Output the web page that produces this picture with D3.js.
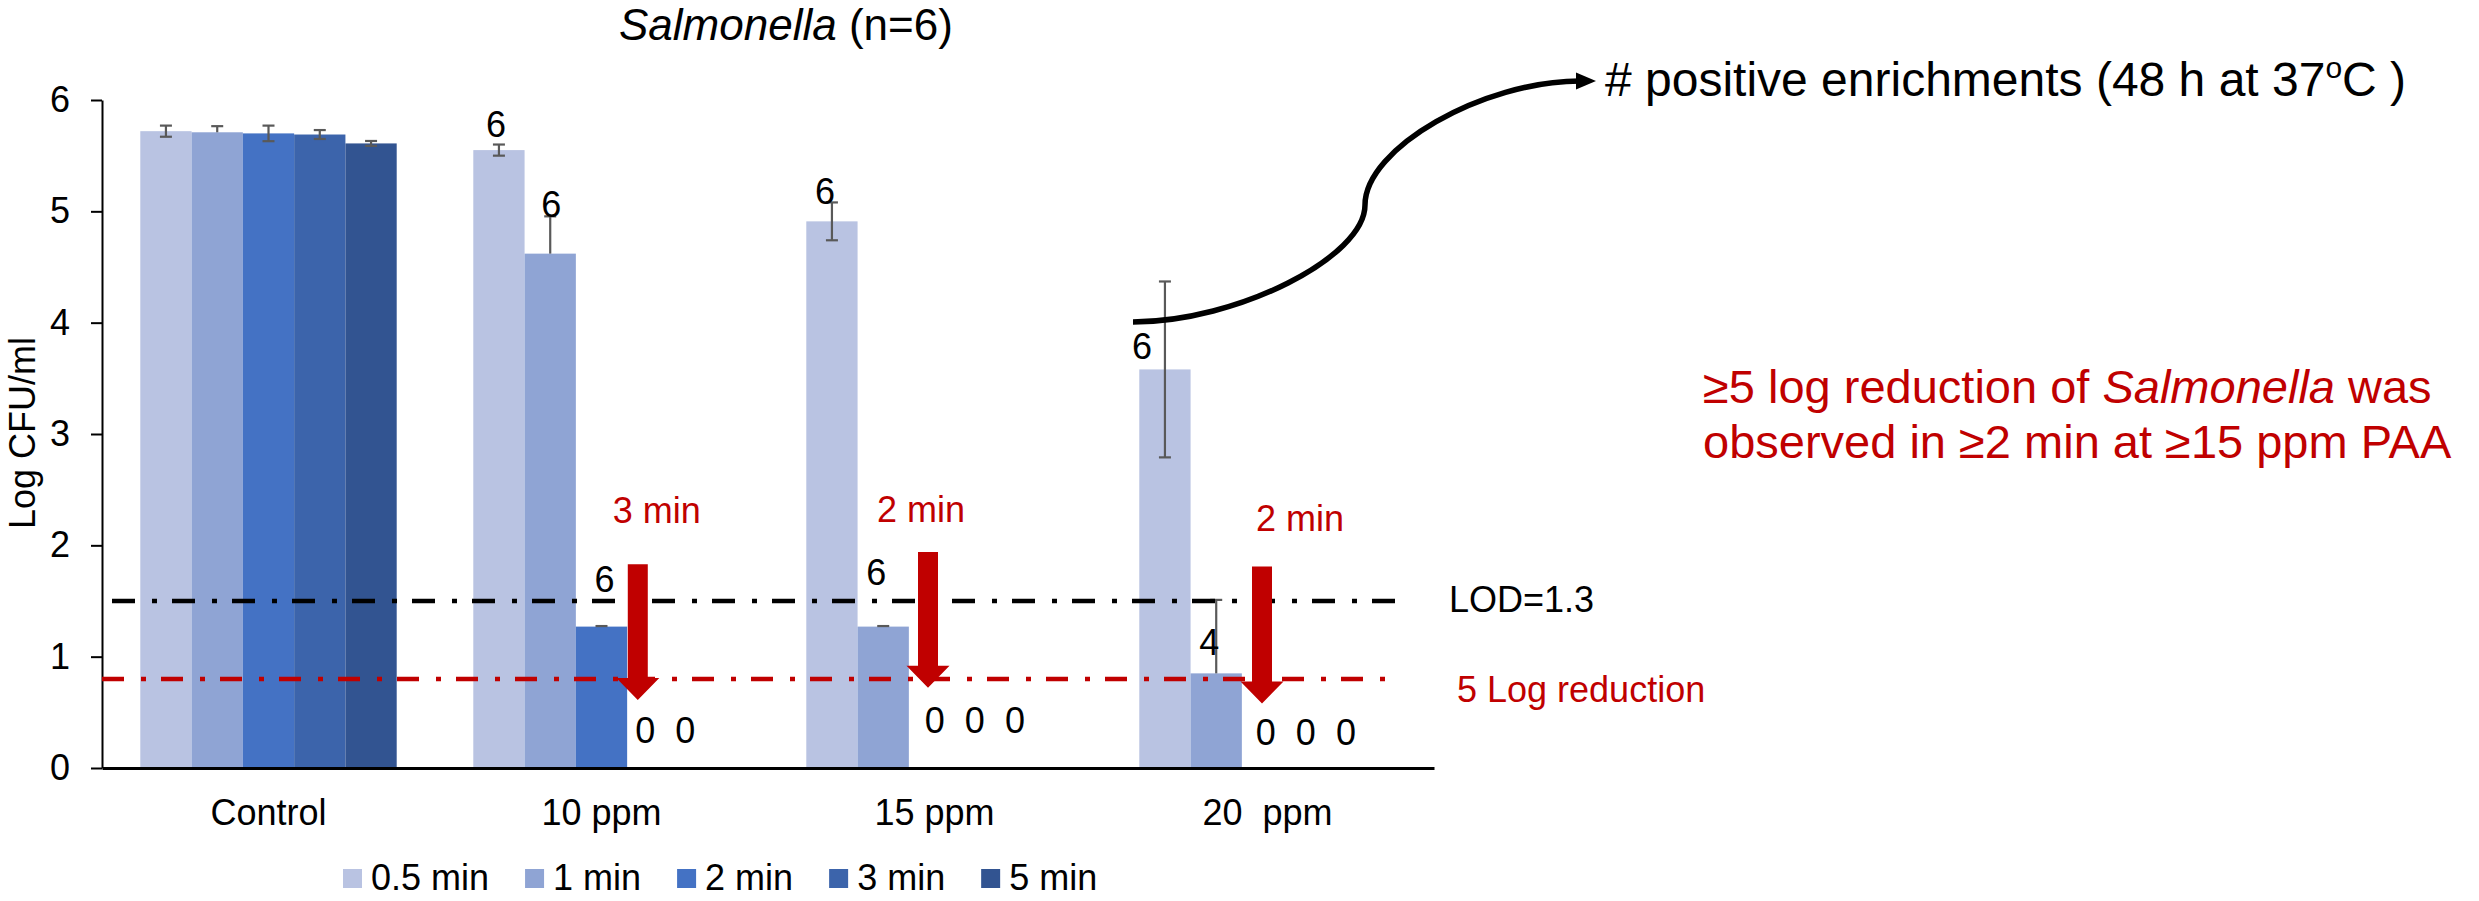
<!DOCTYPE html>
<html>
<head>
<meta charset="utf-8">
<script src="https://cdn.jsdelivr.net/npm/d3@7"></script>
<style>
  html, body { margin: 0; padding: 0; background: #fff; }
  svg { display: block; font-family: Arial, "Liberation Sans", sans-serif; }
</style>
</head>
<body>
<svg id="chart" width="2479" height="901"></svg>
<script>
// ---------------- data ----------------
const categories = ["Control", "10 ppm", "15 ppm", "20  ppm"];
const seriesNames = ["0.5 min", "1 min", "2 min", "3 min", "5 min"];

const vals05 = [5.72, 5.55, 4.91, 3.58];
const vals1  = [5.71, 4.62, 1.27, 0.85];
const vals2  = [5.70, 1.27, 0, 0];
const vals3  = [5.69, 0, 0, 0];
const vals5  = [5.61, 0, 0, 0];

const errPlus05 = [0.05, 0.05, 0.17, 0.79];
const errPlus1  = [0.055, 0.335, 0.005, 0.66];
const errPlus2  = [0.07, 0.005, 0, 0];
const errPlus3  = [0.04, 0, 0, 0];
const errPlus5  = [0.022, 0, 0, 0];

const errMinus05 = [0.05, 0.05, 0.17, 0.79];
const errMinus1  = [0, 0, 0, 0];
const errMinus2  = [0.07, 0, 0, 0];
const errMinus3  = [0.04, 0, 0, 0];
const errMinus5  = [0.022, 0, 0, 0];

// number of positive enrichments (48 h at 37 C)
const count05 = [null, 6, 6, 6];
const count1  = [null, 6, 6, 4];
const count2  = [null, 6, 0, 0];
const count3  = [null, 0, 0, 0];
const count5  = [null, 0, 0, 0];

const yTicks = [0, 1, 2, 3, 4, 5, 6];
const lodValue = 1.5;        // drawn LOD line
const reductionValue = 0.8;  // 5 log reduction line

const arrowCats   = ["10 ppm", "15 ppm", "20  ppm"];
const arrowSeries = ["3 min", "2 min", "2 min"];
const arrowFrom   = [1.83, 1.94, 1.81];
const arrowTo     = [0.61, 0.72, 0.58];

// ---------------- build table ----------------
const seriesVals  = [vals05, vals1, vals2, vals3, vals5];
const seriesPlus  = [errPlus05, errPlus1, errPlus2, errPlus3, errPlus5];
const seriesMinus = [errMinus05, errMinus1, errMinus2, errMinus3, errMinus5];
const seriesCount = [count05, count1, count2, count3, count5];
const colors = ["#B9C3E2", "#8FA4D4", "#4472C4", "#3C64AB", "#325491"];

const rows = [];
categories.forEach((c, ci) => {
  seriesNames.forEach((s, si) => {
    rows.push({cat: c, ser: s, si, value: seriesVals[si][ci],
      plus: seriesPlus[si][ci], minus: seriesMinus[si][ci], count: seriesCount[si][ci]});
  });
});

// ---------------- layout ----------------
const svg = d3.select("#chart");
const RED = "#C00000";
const FONT = 36;

const x0 = d3.scaleBand().domain(categories).range([102, 1434])
  .paddingInner(0.23).paddingOuter(0.115);
const x1 = d3.scaleBand().domain(seriesNames).range([0, x0.bandwidth()]).padding(0);
const y = d3.scaleLinear().domain([0, 6]).range([768, 100]);
const color = d3.scaleOrdinal().domain(seriesNames).range(colors);

const barX = d => x0(d.cat) + x1(d.ser);
const barC = d => barX(d) + x1.bandwidth() / 2;

// bars
svg.append("g").selectAll("rect").data(rows.filter(d => d.value > 0)).join("rect")
  .attr("x", barX)
  .attr("y", d => y(d.value))
  .attr("width", x1.bandwidth())
  .attr("height", d => y(0) - y(d.value))
  .attr("fill", d => color(d.ser));

// error bars
const eg = svg.append("g").attr("stroke", "#595959").attr("stroke-width", 2.2).attr("fill", "none");
rows.filter(d => d.plus > 0 || d.minus > 0).forEach(d => {
  const cx = barC(d);
  const top = y(d.value + d.plus), bot = y(d.value - d.minus);
  eg.append("line").attr("x1", cx).attr("x2", cx).attr("y1", top).attr("y2", bot);
  if (d.plus > 0) eg.append("line").attr("x1", cx - 6).attr("x2", cx + 6).attr("y1", top).attr("y2", top);
  if (d.minus > 0) eg.append("line").attr("x1", cx - 6).attr("x2", cx + 6).attr("y1", bot).attr("y2", bot);
});

// y axis
const yAxis = svg.append("g").attr("transform", "translate(102,0)")
  .call(d3.axisLeft(y).tickValues(yTicks).tickFormat(d3.format("d")).tickSize(11).tickSizeOuter(0).tickPadding(21));
yAxis.select(".domain").attr("stroke", "#000").attr("stroke-width", 2);
yAxis.selectAll(".tick line").attr("stroke", "#000").attr("stroke-width", 2);
yAxis.selectAll(".tick text").attr("font-size", FONT).attr("fill", "#000")
  .attr("font-family", "Arial, 'Liberation Sans', sans-serif");

// x axis
const xAxis = svg.append("g").attr("transform", `translate(0,${y(0)})`)
  .call(d3.axisBottom(x0).tickSize(0).tickSizeOuter(0).tickPadding(31));
xAxis.select(".domain").attr("stroke", "#000").attr("stroke-width", 3);
xAxis.selectAll(".tick text").attr("font-size", FONT).attr("fill", "#000")
  .attr("font-family", "Arial, 'Liberation Sans', sans-serif")
  .style("white-space", "pre");

// reference lines
svg.append("line").attr("x1", 112).attr("x2", 1408).attr("y1", y(lodValue)).attr("y2", y(lodValue))
  .attr("stroke", "#000").attr("stroke-width", 4.5).attr("stroke-dasharray", "23,17,5,15");
svg.append("line").attr("x1", 102).attr("x2", 1397).attr("y1", y(reductionValue)).attr("y2", y(reductionValue))
  .attr("stroke", RED).attr("stroke-width", 4.5).attr("stroke-dasharray", "22,17,5,15");

svg.append("text").attr("x", 1449).attr("y", y(lodValue) + 11).attr("font-size", FONT).text("LOD=1.3");
svg.append("text").attr("x", 1457).attr("y", y(reductionValue) + 23).attr("font-size", FONT)
  .attr("fill", RED).text("5 Log reduction");

// count labels for non-zero bars (hand-placed nudges as in the original)
const nudge = {
  "10 ppm|0.5 min": [-3, 0], "10 ppm|1 min": [1, 9], "10 ppm|2 min": [3, -26],
  "15 ppm|0.5 min": [-7, 10], "15 ppm|1 min": [-7, -33],
  "20  ppm|0.5 min": [-23, 86], "20  ppm|1 min": [-7, 63]
};
svg.append("g").selectAll("text").data(rows.filter(d => d.count != null && d.value > 0)).join("text")
  .attr("font-size", FONT).attr("text-anchor", "middle")
  .attr("x", d => barC(d) + (nudge[d.cat + "|" + d.ser] || [0, 0])[0])
  .attr("y", d => y(d.value + d.plus) - 8 + (nudge[d.cat + "|" + d.ser] || [0, 0])[1])
  .text(d => d.count);

// zero-count labels grouped per category
const zeroNudge = {"10 ppm": [8, -25], "15 ppm": [16, -35], "20  ppm": [14, -23]};
categories.forEach(c => {
  const z = rows.filter(d => d.cat === c && d.value === 0 && d.count != null);
  if (!z.length) return;
  const nz = zeroNudge[c] || [10, -28];
  svg.append("text").attr("x", barX(z[0]) + nz[0]).attr("y", y(0) + nz[1])
    .attr("font-size", FONT).style("white-space", "pre")
    .text(z.map(d => d.count).join("  "));
});

// red arrows
const arrowDx = [-15, -6.5, -5.5];
const labelDx = [19, -7, 38];
const labelDy = [41, 30, 35];
arrowCats.forEach((c, i) => {
  const cx = x0(c) + x1(arrowSeries[i]) + x1.bandwidth() / 2 + arrowDx[i];
  const yt = y(arrowFrom[i]), tip = y(arrowTo[i]);
  const hb = tip - 22, sw = 10, hw = 21.5;
  svg.append("path")
    .attr("d", `M${cx - sw},${yt} L${cx + sw},${yt} L${cx + sw},${hb} L${cx + hw},${hb} L${cx},${tip} L${cx - hw},${hb} L${cx - sw},${hb} Z`)
    .attr("fill", RED);
  svg.append("text").attr("x", cx + labelDx[i]).attr("y", yt - labelDy[i])
    .attr("font-size", FONT).attr("fill", RED).attr("text-anchor", "middle").text(arrowSeries[i]);
});

// connector curve to annotation
svg.append("path")
  .attr("d", "M1133,322 C1237,322 1365,257 1365,205 C1365,148 1483,81 1580,81")
  .attr("fill", "none").attr("stroke", "#000").attr("stroke-width", 5.5);
svg.append("path").attr("d", "M1576,72.5 L1596,81 L1576,89.5 Z").attr("fill", "#000");

const ann = svg.append("text").attr("x", 1605).attr("y", 96).attr("font-size", 48);
ann.append("tspan").text("# positive enrichments (48 h at 37");
ann.append("tspan").attr("font-size", 30).attr("dy", -18).text("o");
ann.append("tspan").attr("dy", 18).text("C )");

// title
const title = svg.append("text").attr("x", 619).attr("y", 40).attr("font-size", 44);
title.append("tspan").attr("font-style", "italic").text("Salmonella");
title.append("tspan").text(" (n=6)");

// y axis title
svg.append("text").attr("transform", "translate(35,433) rotate(-90)")
  .attr("text-anchor", "middle").attr("font-size", FONT).text("Log CFU/ml");

// conclusion text
const c1 = svg.append("text").attr("x", 1703).attr("y", 403).attr("font-size", 47).attr("fill", RED);
c1.append("tspan").text("\u22655 log reduction of ");
c1.append("tspan").attr("font-style", "italic").text("Salmonella");
c1.append("tspan").text(" was");
svg.append("text").attr("x", 1703).attr("y", 458).attr("font-size", 47).attr("fill", RED)
  .text("observed in \u22652 min at \u226515 ppm PAA");

// legend
const legend = svg.append("g");
let lx = 343;
seriesNames.forEach(s => {
  legend.append("rect").attr("x", lx).attr("y", 869).attr("width", 19).attr("height", 19).attr("fill", color(s));
  const t = legend.append("text").attr("x", lx + 28).attr("y", 890).attr("font-size", FONT).text(s);
  lx = lx + 28 + t.node().getComputedTextLength() + 36;
});
</script>
</body>
</html>
